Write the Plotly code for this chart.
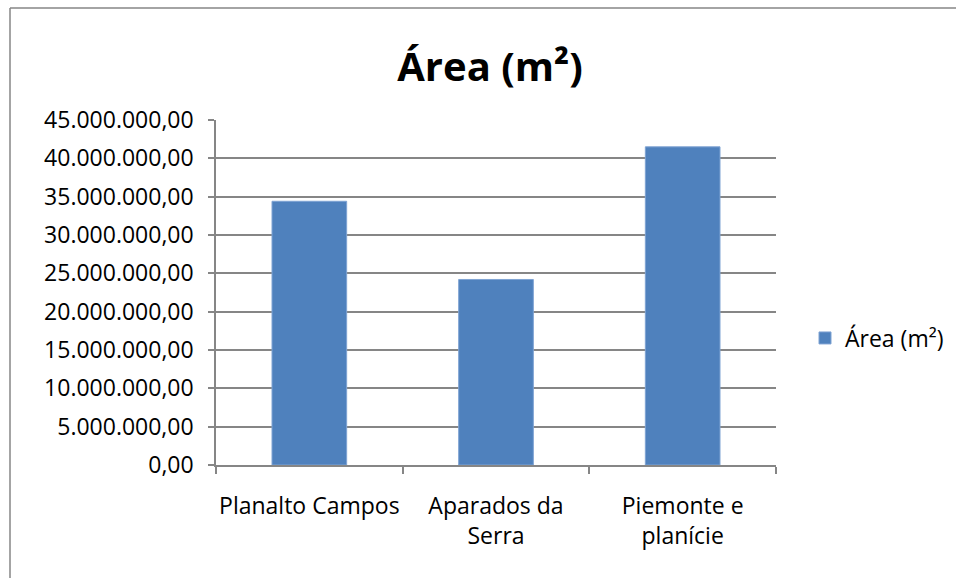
import plotly.graph_objects as go

categories = ["Planalto Campos", "Aparados da Serra", "Piemonte e planície"]
category_labels = ["Planalto Campos", "Aparados da<br>Serra", "Piemonte e<br>planície"]
area_m2 = [34400000, 24200000, 41500000]
y_ticks = [0, 5e6, 10e6, 15e6, 20e6, 25e6, 30e6, 35e6, 40e6, 45e6]
series_name = "Área (m²)"
title_text = "Área (m²)"

FONT = "Open Sans"
GRID = "#868686"

fig = go.Figure()
fig.add_trace(go.Bar(
    x=categories, y=area_m2, name=series_name,
    marker=dict(color="#4F81BD", line=dict(color="#7FA3D3", width=1)),
    width=0.4, showlegend=True,
))

L, R, T, B = 216, 180, 120, 113
W, H = 956, 578
pw, ph = W - L - R, H - T - B

def px_x(px):
    return (px - L) / pw

def px_y(py):
    return (H - B - py) / ph

fig.update_layout(
    width=W, height=H,
    margin=dict(l=L, r=R, t=T, b=B, autoexpand=False),
    paper_bgcolor="white", plot_bgcolor="white",
    separators=",.",
    font=dict(family=FONT, size=23, color="#000000"),
    title=dict(text=f"<b>{title_text}</b>", x=px_x(490), xref="paper", xanchor="center",
               y=1 - 67 / H, yanchor="middle", font=dict(size=40, family=FONT)),
    showlegend=True,
    legend=dict(x=px_x(805), y=px_y(338), xanchor="left", yanchor="middle",
                font=dict(size=23, family=FONT), itemwidth=30, bgcolor="rgba(0,0,0,0)"),
    bargap=0.6,
    xaxis=dict(
        tickmode="array", tickvals=categories, ticktext=category_labels,
        showline=True, linecolor=GRID, linewidth=1.5,
        ticks="outside", tickson="boundaries", ticklen=7, tickcolor=GRID, tickwidth=1.5,
        showgrid=False, ticklabelstandoff=20, tickangle=0, automargin=False,
        tickfont=dict(size=23, family=FONT),
    ),
    yaxis=dict(
        range=[0, 45e6], tickmode="array", tickvals=y_ticks, tickformat=",.2f",
        showline=True, linecolor=GRID, linewidth=1.5,
        ticks="outside", ticklen=6, tickcolor=GRID, tickwidth=1.5,
        showgrid=True, gridcolor=GRID, gridwidth=1.5, zeroline=False,
        ticklabelstandoff=10, automargin=False,
        tickfont=dict(size=23, family=FONT),
    ),
    shapes=[
        dict(type="line", xref="paper", yref="paper", x0=px_x(10), x1=px_x(960), y0=px_y(8), y1=px_y(8),
             line=dict(color=GRID, width=1.5)),
        dict(type="line", xref="paper", yref="paper", x0=px_x(10), x1=px_x(10), y0=px_y(8), y1=px_y(590),
             line=dict(color=GRID, width=1.5)),
    ],
)

fig.write_html("out.html")
